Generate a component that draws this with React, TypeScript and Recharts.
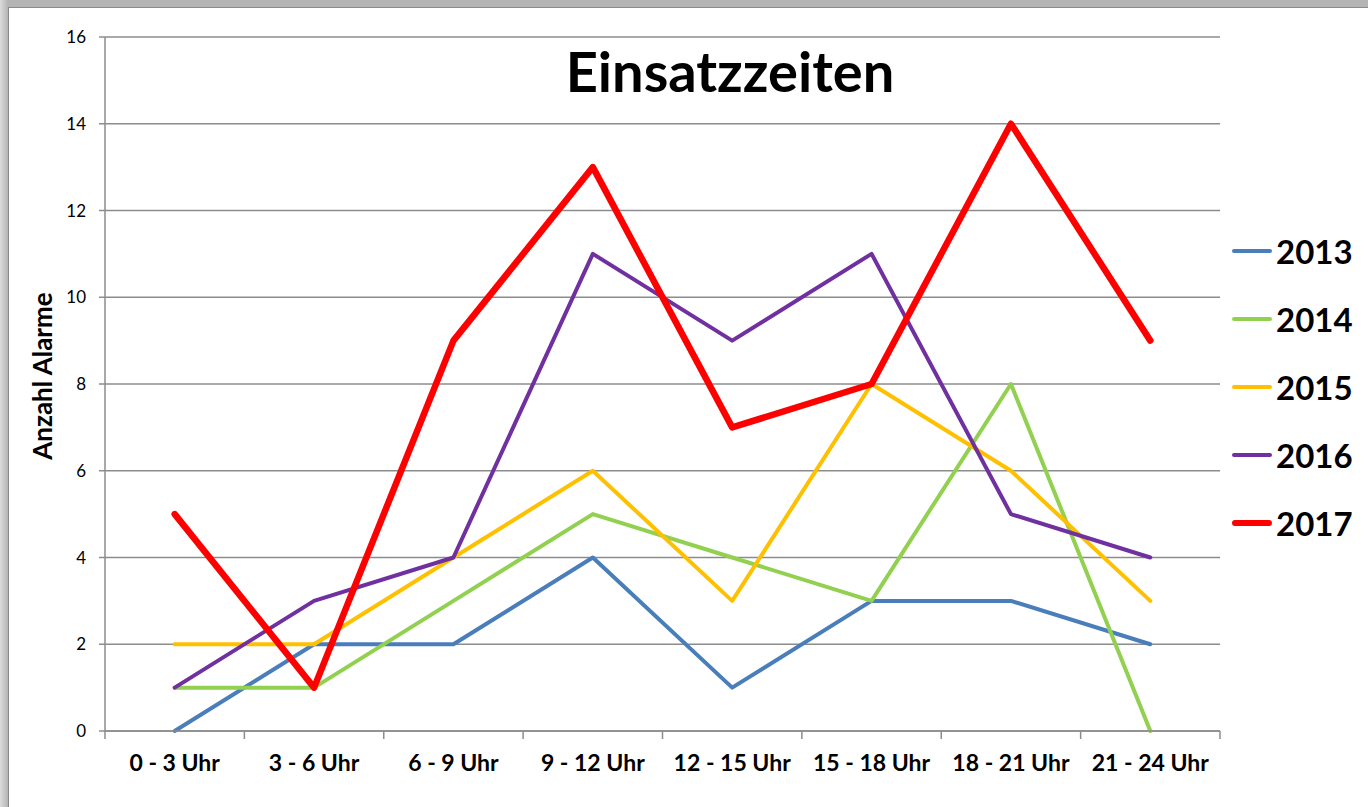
import React from "react";
import {
  LineChart,
  Line,
  XAxis,
  YAxis,
  CartesianGrid,
  Legend,
} from "recharts";

const categories = [
  "0 - 3 Uhr",
  "3 - 6 Uhr",
  "6 - 9 Uhr",
  "9 - 12 Uhr",
  "12 - 15 Uhr",
  "15 - 18 Uhr",
  "18 - 21 Uhr",
  "21 - 24 Uhr",
];

const y2013 = [0, 2, 2, 4, 1, 3, 3, 2];
const y2014 = [1, 1, 3, 5, 4, 3, 8, 0];
const y2015 = [2, 2, 4, 6, 3, 8, 6, 3];
const y2016 = [1, 3, 4, 11, 9, 11, 5, 4];
const y2017 = [5, 1, 9, 13, 7, 8, 14, 9];

const yTicks = [0, 2, 4, 6, 8, 10, 12, 14, 16];

const series = [
  { key: "2013", values: y2013, color: "#4a7ebb", width: 4 },
  { key: "2014", values: y2014, color: "#92d050", width: 4 },
  { key: "2015", values: y2015, color: "#ffc000", width: 4 },
  { key: "2016", values: y2016, color: "#7030a0", width: 4 },
  { key: "2017", values: y2017, color: "#ff0000", width: 6.5 },
];

const data = categories.map((label, i) => {
  const row: Record<string, string | number> = { label };
  series.forEach((s) => {
    row[s.key] = s.values[i];
  });
  return row;
});

const FONT = "Lato, 'Open Sans', sans-serif";
const AXIS_GRAY = "#8c8c8c";
const X_TICK_SIZE = 6;
const X_TICK_MARGIN = 18;
const BOUNDARY_MARK = 8;

// Excel puts the category tick marks between labels, so draw them at the band edges
function CategoryTick(props: any) {
  const { x, y, payload, index, visibleTicksCount } = props;
  const half = payload?.offset ?? 0;
  const axisY = y - X_TICK_SIZE - X_TICK_MARGIN;
  const isLast = index === (visibleTicksCount ?? categories.length) - 1;
  return (
    <g>
      <line
        x1={x - half}
        x2={x - half}
        y1={axisY}
        y2={axisY + BOUNDARY_MARK}
        stroke={AXIS_GRAY}
        strokeWidth={1.5}
      />
      {isLast && (
        <line
          x1={x + half}
          x2={x + half}
          y1={axisY}
          y2={axisY + BOUNDARY_MARK}
          stroke={AXIS_GRAY}
          strokeWidth={1.5}
        />
      )}
      <text
        x={x}
        y={y}
        dy="0.71em"
        textAnchor="middle"
        fontFamily={FONT}
        fontSize={23}
        fontWeight={700}
        fill="#000"
      >
        {payload.value}
      </text>
    </g>
  );
}

function LegendBox({ payload }: { payload?: Array<{ value: string; color: string; dataKey?: string }> }) {
  if (!payload) return null;
  return (
    <div style={{ fontFamily: FONT }}>
      {payload.map((p) => {
        const s = series.find((x) => x.key === String(p.dataKey ?? p.value));
        return (
          <div
            key={p.value}
            style={{ display: "flex", alignItems: "center", height: 68 }}
          >
            <span
              style={{
                display: "inline-block",
                width: 40,
                height: s?.width ?? 4,
                borderRadius: 4,
                background: p.color,
                marginRight: 4,
              }}
            />
            <span style={{ fontSize: 33, fontWeight: 700, color: "#000" }}>
              {p.value}
            </span>
          </div>
        );
      })}
    </div>
  );
}

export default function App() {
  return (
    <div
      style={{
        position: "absolute",
        left: 0,
        top: 0,
        width: 1368,
        height: 807,
        background: "linear-gradient(90deg, #dcdcdc, #b4b4b4 8px)",
        overflow: "hidden",
      }}
    >
      <div
        style={{
          position: "absolute",
          left: 8,
          top: 7,
          right: 0,
          bottom: 0,
          background: "#fff",
          borderTop: "1px solid #8a8a8a",
          borderLeft: "1px solid #8a8a8a",
        }}
      />
      <div style={{ position: "absolute", left: 0, top: 0 }}>
        <LineChart
          width={1368}
          height={807}
          data={data}
          margin={{ top: 37, right: 148, bottom: 26, left: 0 }}
        >
          <CartesianGrid
            vertical={false}
            stroke={AXIS_GRAY}
            strokeWidth={1.5}
          />
          <XAxis
            dataKey="label"
            scale="band"
            height={50}
            stroke={AXIS_GRAY}
            strokeWidth={1.5}
            tickLine={false}
            tickSize={X_TICK_SIZE}
            tickMargin={X_TICK_MARGIN}
            interval={0}
            tick={<CategoryTick />}
          />
          <YAxis
            width={105}
            domain={[0, 16]}
            ticks={yTicks}
            interval={0}
            tickSize={6}
            tickMargin={13}
            stroke={AXIS_GRAY}
            strokeWidth={1.5}
            tick={{ fontFamily: FONT, fontSize: 17, fill: "#000" }}
          />
          <Legend
            layout="vertical"
            align="center"
            verticalAlign="middle"
            wrapperStyle={{ left: 1232, top: 217, width: 130 }}
            content={(props: any) => <LegendBox payload={props.payload} />}
          />
          {series.map((s) => (
            <Line
              key={s.key}
              type="linear"
              dataKey={s.key}
              name={s.key}
              stroke={s.color}
              strokeWidth={s.width}
              strokeLinejoin="round"
              strokeLinecap="round"
              dot={false}
              activeDot={false}
              isAnimationActive={false}
            />
          ))}
        </LineChart>
      </div>
      <div
        style={{
          position: "absolute",
          left: 730,
          top: 38,
          transform: "translateX(-50%)",
          fontFamily: FONT,
          fontSize: 56,
          fontWeight: 700,
          color: "#000",
          whiteSpace: "nowrap",
          lineHeight: "66px",
        }}
      >
        Einsatzzeiten
      </div>
      <div
        style={{
          position: "absolute",
          left: 42,
          top: 376,
          transform: "translate(-50%, -50%) rotate(-90deg)",
          fontFamily: FONT,
          fontSize: 26,
          fontWeight: 700,
          color: "#000",
          whiteSpace: "nowrap",
        }}
      >
        Anzahl Alarme
      </div>
    </div>
  );
}
